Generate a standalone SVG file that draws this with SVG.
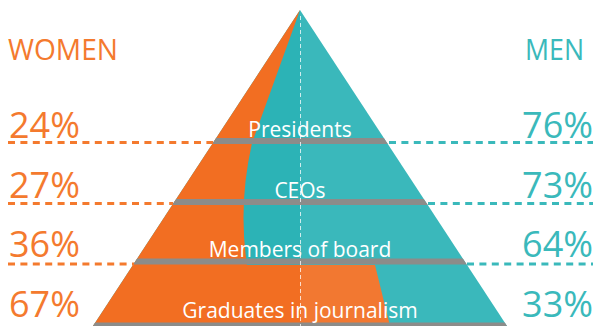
<svg xmlns="http://www.w3.org/2000/svg" width="596" height="331" viewBox="0 0 596 331">
<style>
text{font-family:"Open Sans","Liberation Sans",sans-serif}
.w{fill:#f47a2e}
.m{fill:#3ab9bb}
.h{font-size:30px}
.p{font-size:36px}
.lbl{fill:#ffffff;font-size:21px;text-anchor:middle}
.dl{stroke:#f47a2e;stroke-width:3;stroke-dasharray:7 5.4;fill:none}
.dr{stroke:#3ab9bb;stroke-width:3;stroke-dasharray:7 5.4;fill:none}
.band{fill:#8c8c8a}
</style>
<defs>
<clipPath id="pyr"><path d="M300,10 L507,326 L93,326 Z"/></clipPath>
</defs>
<g id="pyramid" clip-path="url(#pyr)">
<rect x="90" y="8" width="420" height="320" fill="#2cb3b6"/>
<path d="M300,10 L252,143 Q238,205 247,265 L375,265 L390,326 L80,326 L80,10 Z" fill="#f26e22"/>
<rect x="300" y="8" width="210" height="320" fill="#ffffff" fill-opacity="0.07"/>
<rect class="band" x="90" y="138" width="420" height="6"/>
<rect class="band" x="90" y="199" width="420" height="6"/>
<rect class="band" x="90" y="258.5" width="420" height="6"/>
<rect class="band" x="90" y="322.5" width="420" height="4"/>
<line x1="300.5" y1="16" x2="300.5" y2="326" stroke="#ffffff" stroke-width="1" stroke-dasharray="4 3" stroke-opacity="0.75"/>
</g>
<g id="labels">
<text class="lbl" x="300" y="137">Presidents</text>
<text class="lbl" x="300" y="198">CEOs</text>
<text class="lbl" x="300" y="257">Members of board</text>
<text class="lbl" x="300" y="318">Graduates in journalism</text>
</g>
<g id="connectors">
<line class="dl" x1="8" y1="142.5" x2="213" y2="142.5"/>
<line class="dl" x1="8" y1="203.5" x2="173" y2="203.5"/>
<line class="dl" x1="8" y1="264" x2="134" y2="264"/>
<line class="dr" x1="389" y1="142.5" x2="593" y2="142.5"/>
<line class="dr" x1="428" y1="203.5" x2="593" y2="203.5"/>
<line class="dr" x1="467" y1="264" x2="593" y2="264"/>
</g>
<g id="women">
<text class="w h" x="8" y="60" textLength="110" lengthAdjust="spacingAndGlyphs">WOMEN</text>
<text class="w p" x="9" y="138">24%</text>
<text class="w p" x="9" y="198">27%</text>
<text class="w p" x="9" y="257">36%</text>
<text class="w p" x="9" y="317">67%</text>
</g>
<g id="men">
<text class="m h" x="525" y="60" textLength="59" lengthAdjust="spacingAndGlyphs">MEN</text>
<text class="m p" x="593" y="138" text-anchor="end">76%</text>
<text class="m p" x="593" y="198" text-anchor="end">73%</text>
<text class="m p" x="593" y="257" text-anchor="end">64%</text>
<text class="m p" x="593" y="317" text-anchor="end">33%</text>
</g>
</svg>
